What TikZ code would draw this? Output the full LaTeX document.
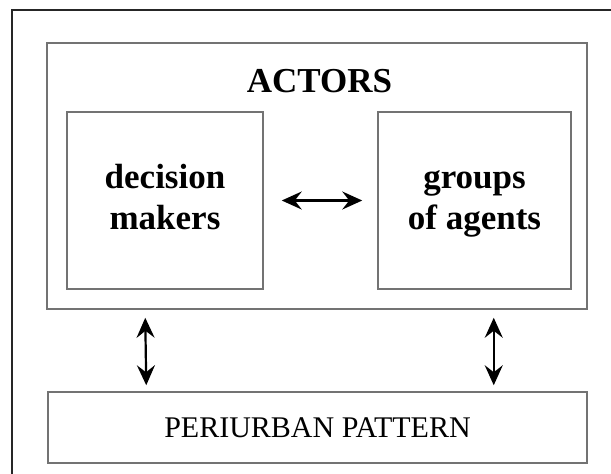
\documentclass[tikz,border=0pt]{standalone}
\usepackage{fontspec}
\setmainfont{Liberation Serif}
\usetikzlibrary{arrows.meta}

\begin{document}
\begin{tikzpicture}[x=0.5pt, y=-0.5pt,
    box/.style={draw=black!55, line width=0.75pt, inner sep=0pt},
    title/.style={font=\fontsize{17.5}{20.5}\selectfont\bfseries, align=center},
    link/.style={{Stealth[length=10pt,width=9pt,inset=3.5pt]}-{Stealth[length=10pt,width=9pt,inset=3.5pt]}, line width=1.1pt}]

% Define the gaps between boxes and arrows
\def\gapout{4pt}
\def\gapin{3pt}

\useasboundingbox (0,0) rectangle (611,473);

% Outer frame (cut off on the right and at the bottom)
\draw[line width=1pt, black!85] (12,10) rectangle (640,500);

% Actors box
\node[box, minimum width=270pt, minimum height=133pt] (actors) at (317,176) {};
\node[title, anchor=base] (actorsLabel) at (319.5,92) {ACTORS};

% Decision makers and groups of agents
\node[box, title, minimum width=98pt, minimum height=88.5pt] (dm) at (165,200.5) {decision\strut\\makers\strut};
\node[box, title, minimum width=96.5pt, minimum height=88.5pt] (ga) at (474.5,200.5) {groups\strut\\of agents\strut};

% Periurban pattern box
\node[box, font=\fontsize{15}{18}\selectfont, minimum width=269.5pt, minimum height=35.5pt] (pattern) at (317.5,427.5) {PERIURBAN PATTERN};

% Connections
\draw[link] ([xshift=9pt]dm.east) -- ([xshift=-7.5pt]ga.west);
\draw[link] ([xshift=49.5pt,yshift=-\gapout]actors.south west) -- ([xshift=49.5pt,yshift=\gapin]pattern.north west);
\draw[link] ([xshift=-47pt,yshift=-\gapout]actors.south east) -- ([xshift=-47pt,yshift=\gapin]pattern.north east);

\end{tikzpicture}
\end{document}
